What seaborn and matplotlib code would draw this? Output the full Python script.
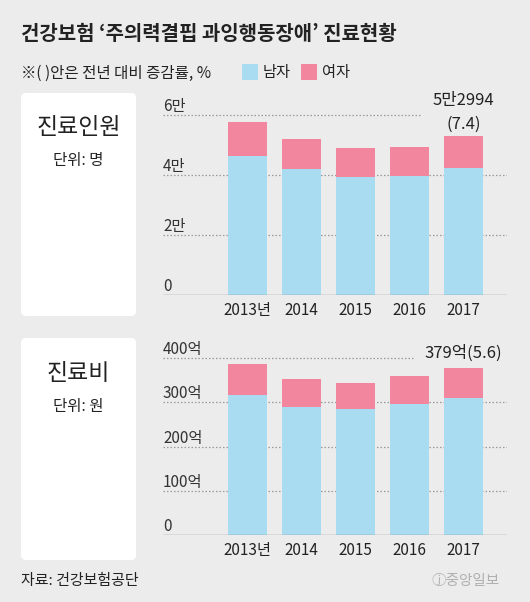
import matplotlib
matplotlib.use("Agg")
import matplotlib.pyplot as plt
from matplotlib.patches import FancyBboxPatch, Rectangle
import pandas as pd
import seaborn as sns

# 데이터
years = ["2013년", "2014", "2015", "2016", "2017"]
patients_total = [57800, 51900, 49100, 49343, 52994]
patients_male = [46300, 41900, 39400, 39700, 42200]
cost_total = [387, 352, 345, 359, 379]
cost_male = [317, 290, 285, 297, 311]

patient_ticks = [0, 20000, 40000, 60000]
patient_tick_labels = ["0", "2만", "4만", "6만"]
cost_ticks = [0, 100, 200, 300, 400]
cost_tick_labels = ["0", "100억", "200억", "300억", "400억"]

BG = "#ececec"
BLUE = "#a9dcf1"
PINK = "#f2869f"
TEXT = "#222222"

sns.set_theme(style="white")
plt.rcParams["font.family"] = ["Noto Sans CJK KR", "DejaVu Sans"]

W, H = 530, 602
fig = plt.figure(figsize=(W / 100, H / 100), dpi=100, facecolor=BG)

# 픽셀 좌표용 배경 축
bg = fig.add_axes([0, 0, 1, 1])
bg.set_xlim(0, W)
bg.set_ylim(H, 0)
bg.axis("off")
bg.set_facecolor(BG)

bg.text(21, 33, "건강보험 ‘주의력결핍 과잉행동장애’ 진료현황", fontsize=14.4,
        fontweight="bold", color=TEXT, va="center", ha="left")
bg.text(21, 73, "※( )안은 전년 대비 증감률, %", fontsize=11.2, color=TEXT,
        va="center", ha="left")
bg.add_patch(Rectangle((242, 64), 16, 16, color=BLUE, lw=0))
bg.text(263, 72, "남자", fontsize=11, color=TEXT, va="center", ha="left")
bg.add_patch(Rectangle((301, 64), 16, 16, color=PINK, lw=0))
bg.text(322, 72, "여자", fontsize=11, color=TEXT, va="center", ha="left")

for top, bottom, name, unit in [(93, 316, "진료인원", "단위: 명"),
                                (338, 560, "진료비", "단위: 원")]:
    bg.add_patch(FancyBboxPatch((21, top), 115, bottom - top,
                                boxstyle="round,pad=0,rounding_size=5",
                                fc="white", ec="none"))
    bg.text(78.5, top + 35, name, fontsize=16.5, color=TEXT, ha="center", va="center")
    bg.text(78.5, top + 68, unit, fontsize=11.2, color=TEXT, ha="center", va="center")

bg.text(21, 581, "자료: 건강보험공단", fontsize=10.8, color=TEXT, va="center", ha="left")
bg.text(500, 581, "ⓙ중앙일보", fontsize=10.5, color="#b0b0b0", va="center", ha="right")


def make_panel(rect_px, total, male, ylim, ticks, tick_labels, grid_short, note, note_lines):
    left, top, right, base = rect_px
    ax = fig.add_axes([left / W, (H - base) / H, (right - left) / W, (base - top) / H])
    ax.set_facecolor("none")
    df = pd.DataFrame({"year": years, "total": total, "male": male})
    sns.barplot(data=df, x="year", y="total", color=PINK, saturation=1,
                width=0.72, linewidth=0, ax=ax, zorder=2)
    sns.barplot(data=df, x="year", y="male", color=BLUE, saturation=1,
                width=0.72, linewidth=0, ax=ax, zorder=3)
    xl = (-1.56, 4.8)
    ax.set_xlim(*xl)
    ax.set_ylim(*ylim)
    for t, lab in zip(ticks, tick_labels):
        if t > 0:
            xr = grid_short if t == ticks[-1] else xl[1]
            ax.hlines(t, xl[0], xr, colors="#9a9a9a", linestyles=(0, (1.2, 1.6)),
                      lw=0.9, zorder=1)
        ax.text(xl[0], t, lab, fontsize=11, color="#333333", ha="left",
                va="bottom", transform=ax.transData)
    ax.axhline(0, color="#8c8c8c", lw=1, zorder=4)
    ax.set_yticks([])
    ax.set_xlabel("")
    ax.set_ylabel("")
    ax.tick_params(axis="x", length=0, pad=5, labelsize=11, labelcolor="#222222")
    for s in ax.spines.values():
        s.set_visible(False)
    for txt, dy in zip(note, note_lines):
        ax.annotate(txt, (4, total[-1]), xytext=(0, dy), textcoords="offset pixels",
                    ha="center", va="center", fontsize=12, color=TEXT,
                    annotation_clip=False)
    return ax


make_panel((163, 103, 507, 295), patients_total, patients_male, (0, 64000),
           patient_ticks, patient_tick_labels, 3.23, ["5만2994", "(7.4)"], [36, 12])
make_panel((163, 345, 507, 535), cost_total, cost_male, (0, 430),
           cost_ticks, cost_tick_labels, 3.1, ["379억(5.6)"], [14])

fig.savefig("out.png", dpi=100, facecolor=BG)
